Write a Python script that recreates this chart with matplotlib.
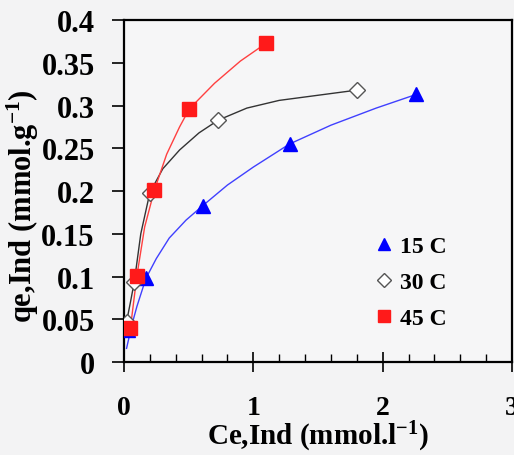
import numpy as np
import matplotlib
matplotlib.use('Agg')
import matplotlib.pyplot as plt

plt.rcParams['font.family'] = ['Liberation Serif', 'DejaVu Serif']
plt.rcParams['font.weight'] = 'bold'
plt.rcParams['mathtext.fontset'] = 'custom'
plt.rcParams['mathtext.rm'] = 'Liberation Serif:bold'
plt.rcParams['mathtext.bf'] = 'Liberation Serif:bold'
plt.rcParams['mathtext.default'] = 'bf'

# measured points
ce_15 = [0.03, 0.17, 0.61, 1.28, 2.26]
qe_15 = [0.037, 0.098, 0.183, 0.255, 0.313]
ce_30 = [0.02, 0.08, 0.20, 0.73, 1.80]
qe_30 = [0.047, 0.094, 0.198, 0.283, 0.318]
ce_45 = [0.05, 0.10, 0.235, 0.505, 1.10]
qe_45 = [0.040, 0.101, 0.201, 0.296, 0.373]

# fitted curves
fit_x_15 = [0.02, 0.06, 0.10, 0.17, 0.25, 0.35, 0.48, 0.61, 0.80, 1.00, 1.28, 1.60, 1.95, 2.26]
fit_y_15 = [0.016, 0.043, 0.065, 0.098, 0.121, 0.145, 0.166, 0.183, 0.207, 0.228, 0.255, 0.277, 0.297, 0.313]
fit_x_30 = [0.02, 0.05, 0.08, 0.13, 0.20, 0.30, 0.43, 0.58, 0.73, 0.95, 1.20, 1.50, 1.80]
fit_y_30 = [0.047, 0.070, 0.094, 0.150, 0.198, 0.226, 0.248, 0.268, 0.283, 0.297, 0.306, 0.312, 0.318]
fit_x_45 = [0.05, 0.10, 0.16, 0.235, 0.33, 0.43, 0.505, 0.70, 0.90, 1.10]
fit_y_45 = [0.040, 0.101, 0.158, 0.201, 0.243, 0.275, 0.296, 0.326, 0.352, 0.373]

labels = ['15 C', '30 C', '45 C']

fig = plt.figure(figsize=(5.14, 4.56), dpi=100, facecolor='#f3f3f4')
ax = fig.add_axes([0.2412, 0.2039, 0.7549, 0.75])
ax.set_facecolor('#f6f6f7')

ax.plot(fit_x_15, fit_y_15, c='#4040ff', lw=1.0, zorder=2)
ax.plot(fit_x_30, fit_y_30, c='#333333', lw=1.0, zorder=2)
ax.plot(fit_x_45, fit_y_45, c='#ff4040', lw=1.0, zorder=2)

ax.plot(ce_15, qe_15, ls='none', marker='^', ms=10, mfc='#0000ff', mec='#0000ff',
        label=labels[0], zorder=3)
ax.plot(ce_30, qe_30, ls='none', marker='D', ms=8, mfc='white', mec='#555555',
        mew=1.0, label=labels[1], zorder=3)
ax.plot(ce_45, qe_45, ls='none', marker='s', ms=10, mfc='#ff1a1a', mec='#ff1a1a',
        label=labels[2], zorder=4)

ax.set_xlim(0, 3)
ax.set_ylim(0, 0.4)
ax.set_xticks([0, 1, 2, 3])
ax.set_xticks(np.arange(0, 3.01, 0.2), minor=True)
ax.set_yticks(np.arange(0, 0.401, 0.05))
ax.set_yticklabels(['0', '0.05', '0.1', '0.15', '0.2', '0.25', '0.3', '0.35', '0.4'])

ax.tick_params(axis='x', which='major', direction='inout', length=14, width=1.2,
               labelsize=20, pad=17)
ax.tick_params(axis='x', which='minor', direction='in', length=6, width=1.0)
ax.tick_params(axis='y', which='major', direction='out', length=9, width=1.2,
               labelsize=22, pad=12)
for s in ax.spines.values():
    s.set_linewidth(1.6)

ax.set_xlabel(r'Ce,Ind (mmol.l$^{-1}$)', fontsize=21, fontweight='bold')
ax.set_ylabel(r'qe,Ind (mmol.g$^{-1}$)', fontsize=22, fontweight='bold')
ax.xaxis.set_label_coords(0.5, -0.166)
ax.yaxis.set_label_coords(-0.215, 0.46)

ax.legend(loc='upper left', bbox_to_anchor=(0.61, 0.405), frameon=False,
          prop=dict(size=17, weight='bold'), handlelength=1.0, handletextpad=0.15,
          labelspacing=0.62, borderpad=0, markerscale=0.9)

plt.savefig('out.png', dpi=100, facecolor=fig.get_facecolor())
